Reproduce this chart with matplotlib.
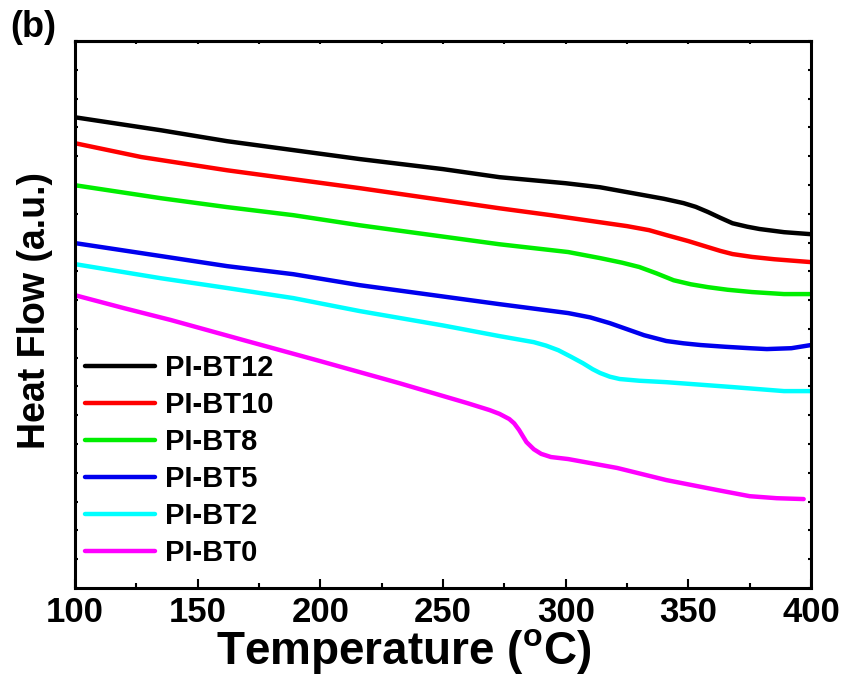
import numpy as np
import matplotlib
matplotlib.use('Agg')
import matplotlib.pyplot as plt

plt.rcParams['font.family'] = ['Liberation Sans', 'DejaVu Sans']
plt.rcParams['font.weight'] = 'bold'
plt.rcParams['mathtext.fontset'] = 'custom'
plt.rcParams['mathtext.bf'] = 'Liberation Sans:bold'
plt.rcParams['mathtext.rm'] = 'Liberation Sans:bold'

# DSC curves (temperature in C, heat flow in a.u., curves offset for clarity)
t_bt12 = [100, 135, 162, 189, 216, 250, 273, 300, 314, 327, 340, 348, 353, 358, 363, 368, 374, 379, 389, 400]
hf_bt12 = [16.35, 15.90, 15.52, 15.21, 14.90, 14.55, 14.27, 14.06, 13.92, 13.72, 13.52, 13.37, 13.24, 13.06, 12.86, 12.67, 12.55, 12.47, 12.36, 12.29]

t_bt10 = [100, 127, 162, 189, 216, 273, 294, 325, 334, 341, 350, 358, 363, 368, 376, 385, 400]
hf_bt10 = [15.45, 14.97, 14.51, 14.20, 13.89, 13.19, 12.95, 12.57, 12.43, 12.26, 12.05, 11.84, 11.71, 11.60, 11.50, 11.42, 11.32]

t_bt8 = [100, 135, 162, 189, 216, 273, 301, 314, 323, 330, 337, 344, 351, 358, 366, 376, 389, 400]
hf_bt8 = [13.99, 13.54, 13.23, 12.95, 12.60, 11.94, 11.67, 11.46, 11.30, 11.15, 10.93, 10.69, 10.55, 10.45, 10.36, 10.28, 10.21, 10.21]

t_bt5 = [100, 135, 162, 189, 216, 273, 301, 310, 318, 325, 332, 341, 348, 355, 365, 375, 382, 392, 400]
hf_bt5 = [11.98, 11.53, 11.18, 10.90, 10.52, 9.86, 9.55, 9.40, 9.20, 8.99, 8.78, 8.58, 8.50, 8.44, 8.38, 8.33, 8.30, 8.33, 8.44]

t_bt2 = [100, 135, 162, 189, 216, 250, 273, 287, 292, 297, 302, 307, 311, 314, 318, 322, 330, 341, 368, 389, 400]
hf_bt2 = [11.25, 10.76, 10.42, 10.07, 9.62, 9.12, 8.75, 8.54, 8.42, 8.26, 8.04, 7.81, 7.60, 7.47, 7.34, 7.26, 7.20, 7.15, 6.98, 6.84, 6.84]

t_bt0 = [100, 120, 139, 170, 200, 232, 260, 269, 273, 277, 279, 281, 284, 287, 290, 294, 301, 321, 341, 362, 375, 386, 397]
hf_bt0 = [10.17, 9.72, 9.31, 8.58, 7.88, 7.12, 6.42, 6.18, 6.05, 5.87, 5.72, 5.49, 5.07, 4.82, 4.66, 4.55, 4.48, 4.17, 3.75, 3.40, 3.19, 3.12, 3.09]

curves = [
    (t_bt12, hf_bt12, 'PI-BT12', '#000000'),
    (t_bt10, hf_bt10, 'PI-BT10', '#ff0000'),
    (t_bt8, hf_bt8, 'PI-BT8', '#00ee00'),
    (t_bt5, hf_bt5, 'PI-BT5', '#0000ee'),
    (t_bt2, hf_bt2, 'PI-BT2', '#00ffff'),
    (t_bt0, hf_bt0, 'PI-BT0', '#ff00ff'),
]

fig = plt.figure(figsize=(8.45, 6.88), dpi=100)
ax = fig.add_axes([0.0888, 0.1453, 0.8710, 0.7951])

for t, hf, name, c in curves:
    ax.plot(t, hf, color=c, lw=3.2, label=name, solid_joinstyle='round', solid_capstyle='round')

ax.set_xlim(100, 400)
ax.set_ylim(0, 19)
ax.set_xticks(np.arange(100, 401, 50))
ax.set_xticks(np.arange(125, 400, 50), minor=True)
ax.set_yticks(np.arange(0, 20, 1))
ax.set_yticklabels([])

for s in ax.spines.values():
    s.set_linewidth(2.2)

ax.tick_params(axis='x', which='major', direction='in', length=6.5, width=1.5,
               labelsize=25, pad=6, top=False)
ax.tick_params(axis='x', which='minor', direction='in', length=3.5, width=1.5, top=False)
ax.tick_params(axis='y', which='major', direction='in', length=2.5, width=1.5,
               left=True, right=True)

# small ticks along the top edge
top = ax.secondary_xaxis('top')
top.set_xticks(np.arange(100, 401, 25))
top.set_xticklabels([])
top.tick_params(direction='in', length=2.5, width=1.5)
top.spines['top'].set_linewidth(2.2)

ax.set_xlabel(r'Temperature ($^{\mathbf{o}}$C)', fontsize=33, fontweight='bold')
ax.xaxis.set_label_coords(0.446, -0.072)
ax.set_ylabel('Heat Flow (a.u.)', fontsize=27, fontweight='bold')
ax.yaxis.set_label_coords(-0.03, 0.508)

fig.text(0.012, 0.985, '(b)', fontsize=26, fontweight='bold', va='top', ha='left')

ax.legend(loc='upper left', bbox_to_anchor=(0.0136, 0.428), frameon=False,
          fontsize=21, handlelength=2.4, handletextpad=0.34, labelspacing=0.31,
          borderpad=0, borderaxespad=0)

fig.savefig('out.png', dpi=100)
